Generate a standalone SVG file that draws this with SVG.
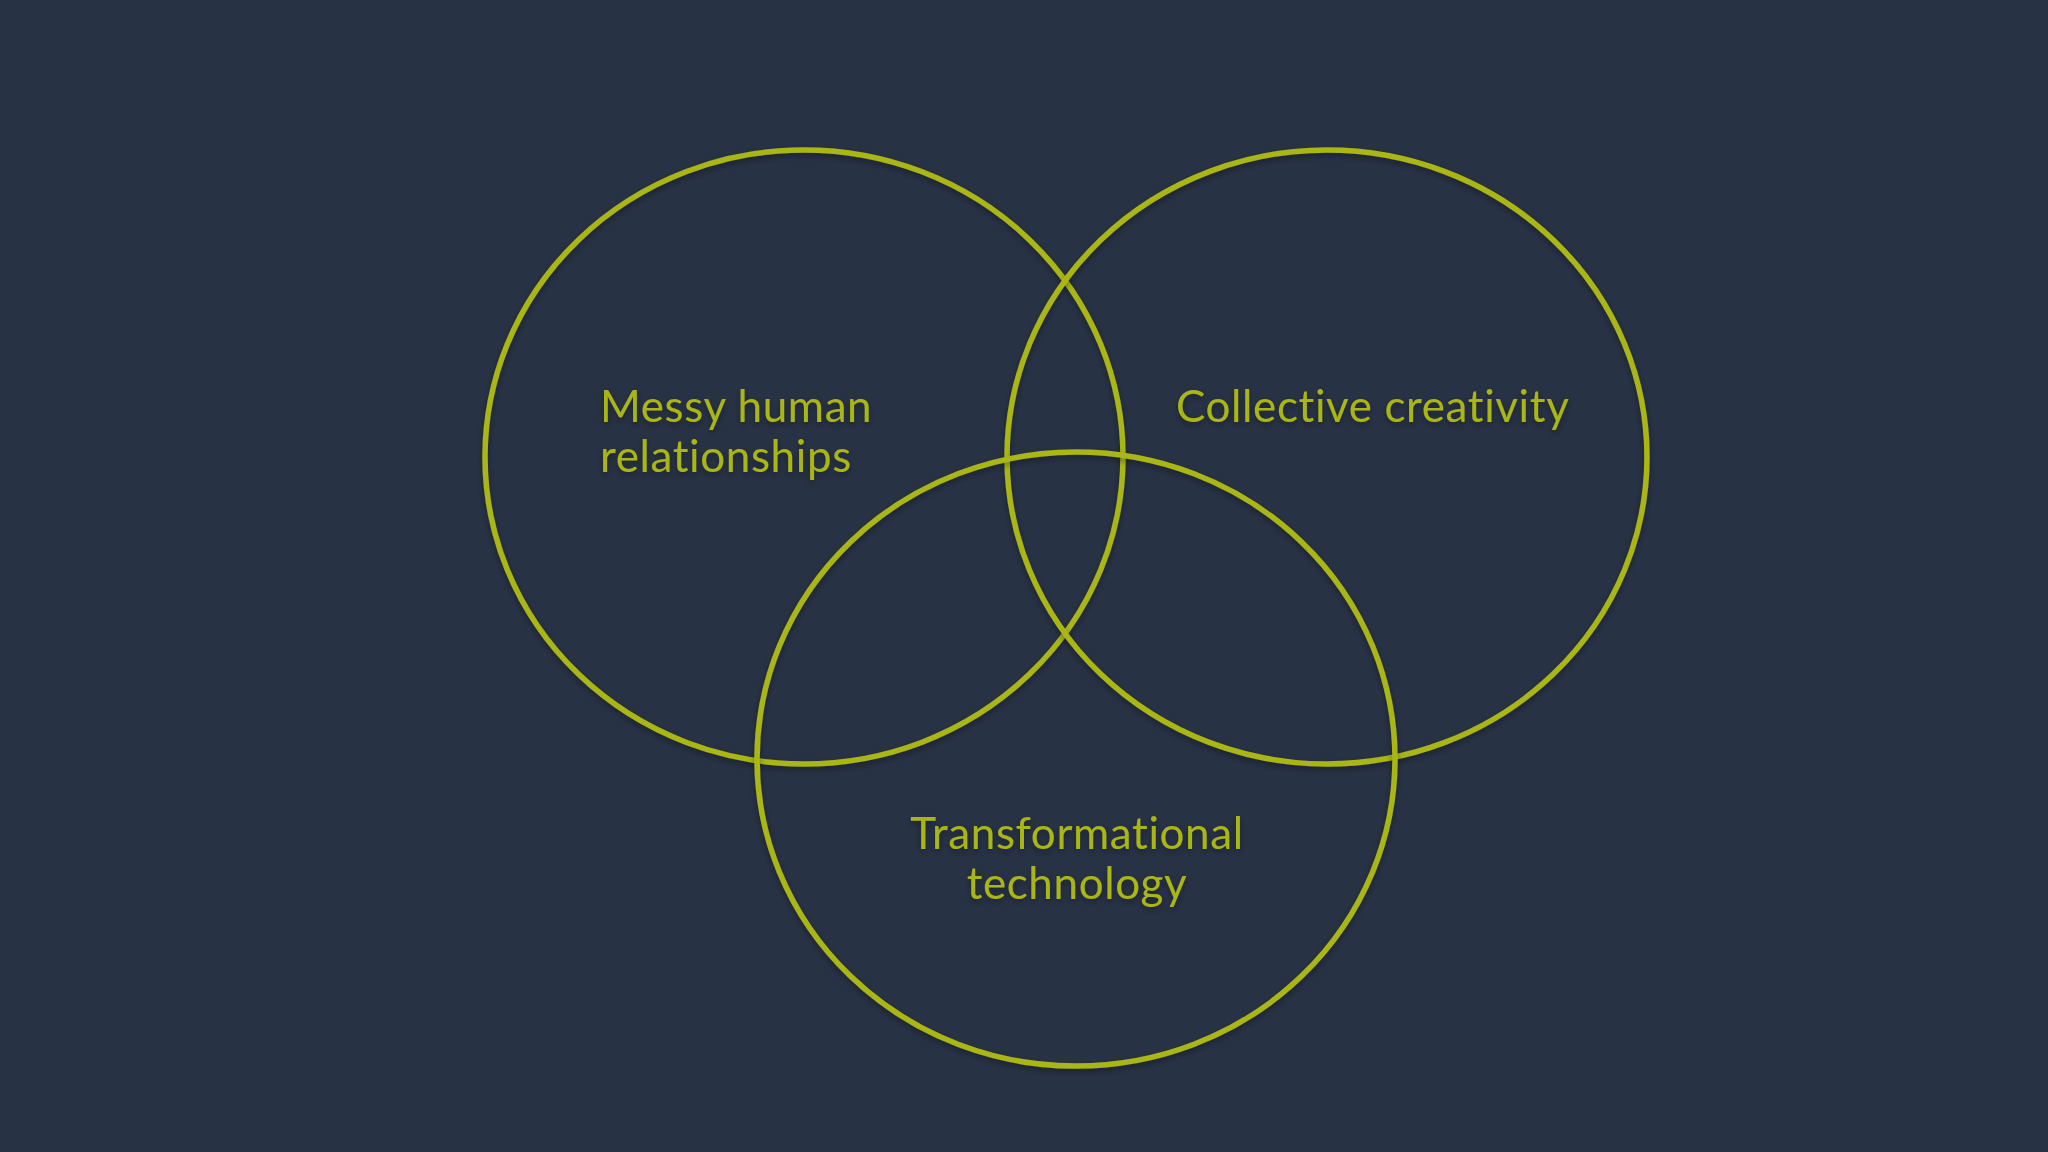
<svg xmlns="http://www.w3.org/2000/svg" width="2048" height="1152" viewBox="0 0 2048 1152">
<defs>
<style>
.c{fill:none;stroke:#a9b612;stroke-width:5.5}
.t{fill:#a9b612;font-family:Lato,"Liberation Sans",sans-serif;font-size:44px;letter-spacing:0.6px;font-variant-ligatures:none;font-feature-settings:"liga" 0}
</style>
<filter id="sh" x="-10%" y="-10%" width="120%" height="120%">
<feDropShadow dx="0" dy="3" stdDeviation="3" flood-color="#000" flood-opacity="0.35"/>
</filter>
</defs>
<rect width="2048" height="1152" fill="#283245"/>
<g id="messy" filter="url(#sh)">
<ellipse class="c" cx="804" cy="457" rx="319" ry="307"/>
<text class="t" x="600" y="422">Messy human</text>
<text class="t" x="600" y="472">relationships</text>
</g>
<g id="collective" filter="url(#sh)">
<ellipse class="c" cx="1327" cy="457" rx="320" ry="307"/>
<text class="t" x="1176" y="422">Collective creativity</text>
</g>
<g id="transformational" filter="url(#sh)">
<ellipse class="c" cx="1076" cy="759" rx="319" ry="307"/>
<text class="t" x="1077" y="849" text-anchor="middle">Transformational</text>
<text class="t" x="1077" y="899" text-anchor="middle">technology</text>
</g>
<g id="connectors"/>
</svg>
